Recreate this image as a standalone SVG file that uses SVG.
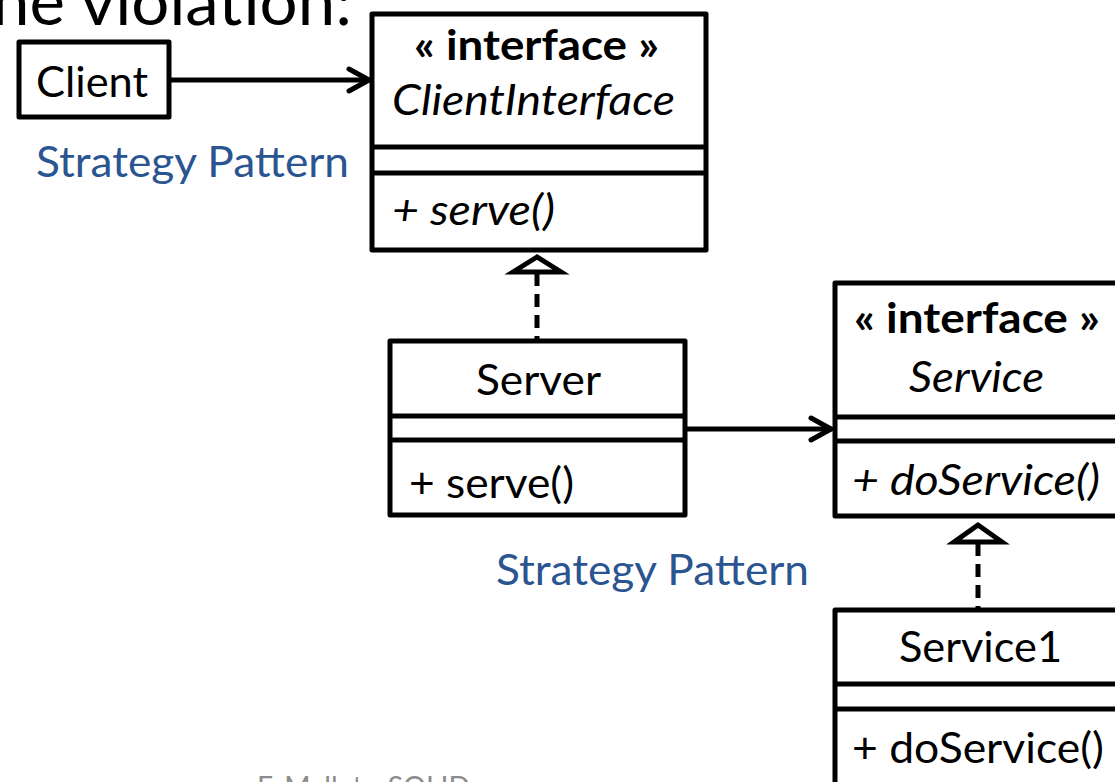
<svg xmlns="http://www.w3.org/2000/svg" width="1115" height="782" viewBox="0 0 1115 782">
  <style>
    text { font-family: Lato, "Open Sans", "Liberation Sans", sans-serif; fill: #000; }
    .title { font-size: 66px; }
    .lbl { font-size: 42px; }
    .bold { font-weight: bold; }
    .ital { font-style: italic; }
    .note { font-size: 42px; fill: #2B5590; }
    .foot { font-size: 28px; fill: #8C8C8C; }
    .box { fill: #fff; stroke: #000; stroke-width: 5; stroke-linejoin: round; }
    .div { stroke: #000; stroke-width: 5; }
    .edge { fill: none; stroke: #000; stroke-width: 5; stroke-linecap: round; stroke-linejoin: round; }
    .dash { fill: none; stroke: #000; stroke-width: 5; stroke-dasharray: 13 8; }
    .tri { fill: #fff; stroke: #000; stroke-width: 5; stroke-linejoin: miter; }
  </style>

  <!-- heading, partly cut off at the top -->
  <text class="title" x="-8" y="25" textLength="360" lengthAdjust="spacingAndGlyphs">ne violation:</text>

  <!-- pattern notes -->
  <text class="note" x="36" y="177" textLength="313" lengthAdjust="spacingAndGlyphs">Strategy Pattern</text>
  <text class="note" x="496" y="585" textLength="313" lengthAdjust="spacingAndGlyphs">Strategy Pattern</text>

  <!-- footer -->
  <text class="foot" x="257" y="797" textLength="213" lengthAdjust="spacingAndGlyphs">F. Mallet - SOLID</text>

  <!-- connectors -->
  <g id="connectors">
    <!-- Client uses ClientInterface -->
    <line class="edge" x1="170" y1="80" x2="369" y2="80"/>
    <polyline class="edge" points="349,69 369,80 349,91"/>
    <!-- Server realizes ClientInterface -->
    <line class="dash" x1="537" y1="273" x2="537" y2="341"/>
    <polygon class="tri" points="537,257 513,272 561,272"/>
    <!-- Server uses Service -->
    <line class="edge" x1="687" y1="429" x2="831" y2="429"/>
    <polyline class="edge" points="811,418 831,429 811,440"/>
    <!-- Service1 realizes Service -->
    <line class="dash" x1="978" y1="543" x2="978" y2="610"/>
    <polygon class="tri" points="978,525 954,542 1002,542"/>
  </g>

  <g id="client">
    <rect class="box" x="19" y="42" width="150" height="75"/>
    <text class="lbl" x="92" y="97" text-anchor="middle" textLength="112" lengthAdjust="spacingAndGlyphs">Client</text>
  </g>

  <g id="client-interface">
    <rect class="box" x="372" y="14" width="334" height="236"/>
    <line class="div" x1="372" y1="147" x2="706" y2="147"/>
    <line class="div" x1="372" y1="173" x2="706" y2="173"/>
    <text class="lbl bold" x="414" y="60" textLength="245" lengthAdjust="spacingAndGlyphs">« interface »</text>
    <text class="lbl ital" x="392" y="115" textLength="283" lengthAdjust="spacingAndGlyphs">ClientInterface</text>
    <text class="lbl ital" x="392" y="225" textLength="163" lengthAdjust="spacingAndGlyphs">+ serve()</text>
  </g>

  <g id="server">
    <rect class="box" x="390" y="341" width="295" height="174"/>
    <line class="div" x1="390" y1="416" x2="685" y2="416"/>
    <line class="div" x1="390" y1="440" x2="685" y2="440"/>
    <text class="lbl" x="476" y="395" textLength="125" lengthAdjust="spacingAndGlyphs">Server</text>
    <text class="lbl" x="409" y="498" textLength="165" lengthAdjust="spacingAndGlyphs">+ serve()</text>
  </g>

  <g id="service">
    <rect class="box" x="835" y="283" width="300" height="233"/>
    <line class="div" x1="835" y1="417" x2="1135" y2="417"/>
    <line class="div" x1="835" y1="441" x2="1135" y2="441"/>
    <text class="lbl bold" x="854" y="333" textLength="246" lengthAdjust="spacingAndGlyphs">« interface »</text>
    <text class="lbl ital" x="909" y="392" textLength="135" lengthAdjust="spacingAndGlyphs">Service</text>
    <text class="lbl ital" x="852" y="495" textLength="248" lengthAdjust="spacingAndGlyphs">+ doService()</text>
  </g>

  <g id="service1">
    <rect class="box" x="835" y="610" width="300" height="200"/>
    <line class="div" x1="835" y1="684" x2="1135" y2="684"/>
    <line class="div" x1="835" y1="709" x2="1135" y2="709"/>
    <text class="lbl" x="899" y="662" textLength="163" lengthAdjust="spacingAndGlyphs">Service1</text>
    <text class="lbl" x="852" y="763" textLength="252" lengthAdjust="spacingAndGlyphs">+ doService()</text>
  </g>
</svg>
